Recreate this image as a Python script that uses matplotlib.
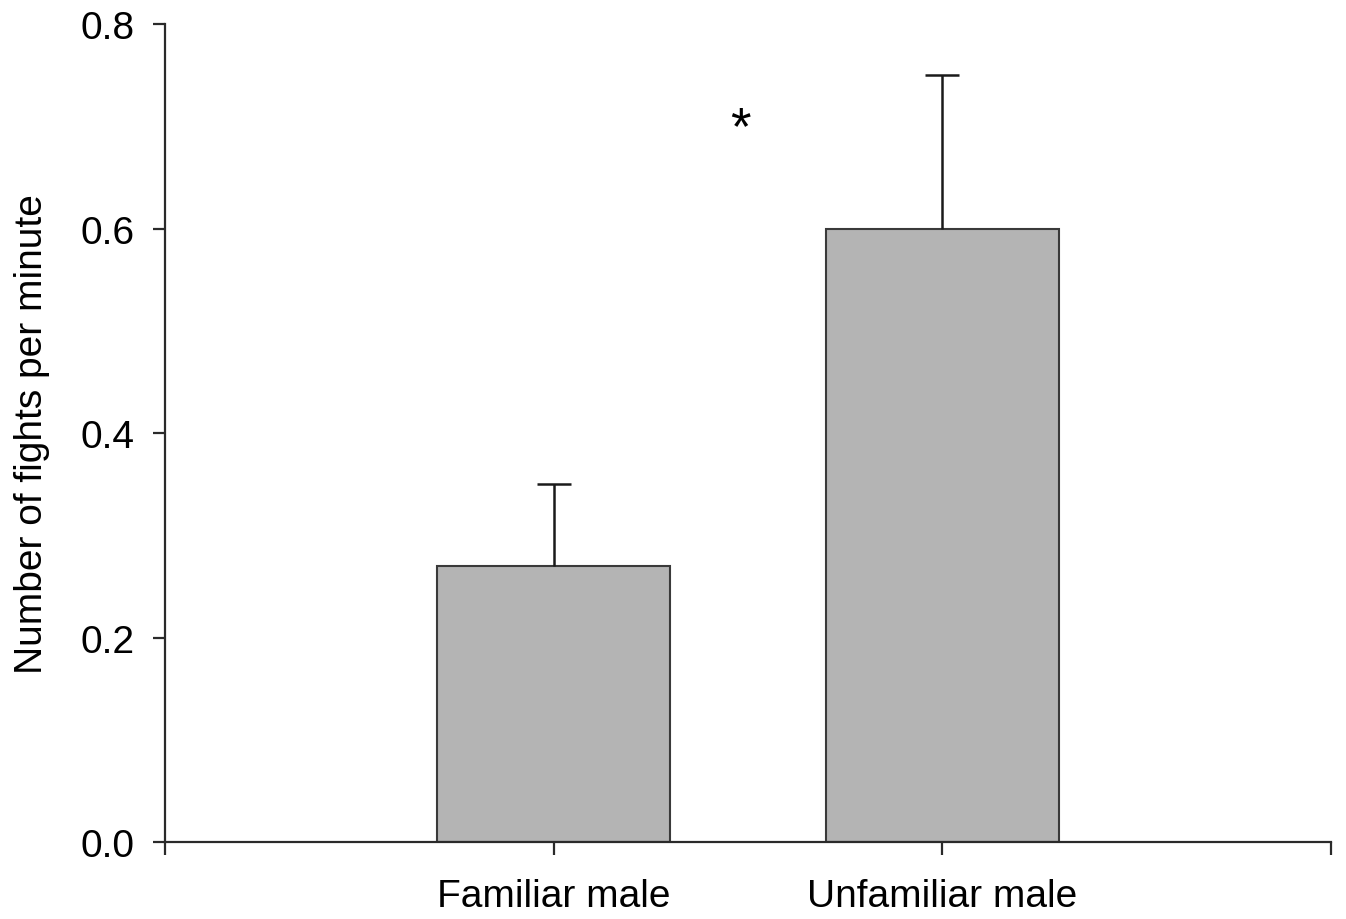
import matplotlib
matplotlib.use("Agg")
import matplotlib.pyplot as plt

categories = ["Familiar male", "Unfamiliar male"]
fights_per_minute = [0.27, 0.60]
sem_upper = [0.08, 0.15]
y_ticks = [0.0, 0.2, 0.4, 0.6, 0.8]

plt.rcParams["font.family"] = ["Liberation Sans", "DejaVu Sans"]

fig = plt.figure(figsize=(13.46, 9.2), dpi=100)
ax = fig.add_axes([0.1226, 0.0837, 0.8663, 0.8891])

positions = [1, 2]
ax.bar(positions, fights_per_minute, width=0.6, color="#b4b4b4",
       edgecolor="#3a3a3a", linewidth=1.5, zorder=2)
_, caps, _ = ax.errorbar(positions, fights_per_minute,
                         yerr=[[0, 0], sem_upper], fmt="none",
                         ecolor="#1a1a1a", elinewidth=1.8, capsize=12,
                         capthick=1.8, zorder=3)
# keep only the upper caps
for cap in caps:
    if list(cap.get_ydata()) == list(fights_per_minute):
        cap.set_visible(False)

ax.text(1.48, 0.697, "*", ha="center", va="center", fontsize=38)

ax.set_xlim(0, 3)
ax.set_ylim(0, 0.8)
ax.set_xticks([0, 1, 2, 3])
ax.set_xticklabels(["", categories[0], categories[1], ""])
ax.set_yticks(y_ticks)
ax.set_yticklabels([f"{v:.1f}" for v in y_ticks])

for side in ("top", "right"):
    ax.spines[side].set_visible(False)
for side in ("left", "bottom"):
    ax.spines[side].set_linewidth(1.6)
    ax.spines[side].set_color("#2a2a2a")

ax.tick_params(axis="both", direction="out", length=9, width=1.6,
               color="#2a2a2a", labelsize=28)
ax.tick_params(axis="x", pad=17)
ax.tick_params(axis="y", pad=13)

ax.set_ylabel("Number of fights per minute", fontsize=28, labelpad=22)

fig.savefig("out.png", dpi=100, facecolor="white")
